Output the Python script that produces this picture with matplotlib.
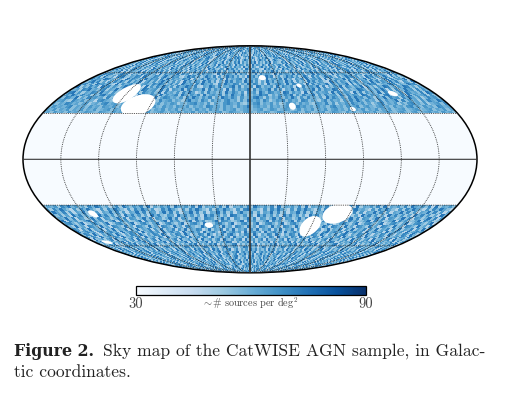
from __future__ import annotations

import matplotlib
matplotlib.use("Agg")
import matplotlib.pyplot as plt
import numpy as np

# density per cell as a digit, 3 deg wide and 2 deg tall, |b| from 30 up to 90 (hand estimate)
north_rows = [
    "564756475645765476547564576456745675465746574657456745765467546576457645675476456745765475645765745675467546745675647564",
    "657465746574657456746574567465746574657465647564756475674567456745764576457465746574675647565746574657456745674567465746",
    "475657846564756476574658745674675475647657465648756475647569467564756467458675647564785647568467546756475647856475648756",
    "746587564673564785674657465786457465763546785647365478657436578465746357864756437658473657486574635784657364785647356748",
    "567438657465278654746859467536748567465379564863756478563749657486357684756387465368475637485964756384756938475637486597",
    "648759364867563847962537486574936875647385964758364975863746589637465847596374856473958647385967486375948673859647358674",
    "375964857364895763485762947586394756839647583946758374965837465978364758693748569374856739485763984756389475683947568374",
    "689473658749563748295647386574928564738596247385647395864728573964875639847562938475673948576294837564938756483975648397",
    "456387956478365947586374985673948276593847659384756293847569384756938472659384756938476598273645986374859627384596738475",
    "793648572968475369748562937485964738569748326597483657948365729846573948657293846759382647593864759284637598463759846375",
    "568473967584293756849367548697358472965738496573284965873649587362945786394875629384756938475692837465978346597836459783",
    "647958362748596384759268473695847362957486395847263958476395847263958476395827463958476329584763958427639584763958427639",
    "385764985637429586473958672849375648692735849657382946578394657283946758394627583946758293847659382746593847265938476592",
    "768395462879436587296458736954867325968473596482735968473529684735968247359684735962847359684273596847352968473596284735",
    "459687346958274639587462938576493857264938576429385764938572649385764293857649385726493857642938576493857264938576429385",
    "837465928376549283765948372659483726594837265948372659483762594837265948376259483726594837625948372659483762594837265948",
    "576948372695847362958473629584736295847362958437629584736295847632958473629584736295847362958473629548736295847362958473",
    "694738526947385629473856294738562947385629473852694738562947385269473856294738562947358629473856294738526947385629473856",
    "385629476385294763852947638529476385294763582947638529476385294763852947368529476385294763852947638524976385294763852947",
    "746385927463859274638592746385927463859274683592746385927463859274638592764385927463859274638592746835927463859274638592",
    "596473825964738259647382596473825964783259647382596473825964738259647382596437825964738259647382596473285964738259647382",
    "473859624738596247385962473859624738956247385962473859624738596247385962437859624738596247385962473859264738596247385962",
    "865947326859473268594732685947326859473268594732685947326859473268594372685947326859473268594732685947236859473268594732",
    "647382956473829564738295647382956473289564738295647382956473829564738295467382956473829564738295647382596473829564738295",
    "395864725395864725398647253958647253958647253958647253958647253958467253958647253958647253958647253986472539586472539586",
    "758496327584963275849632758496327584693275849632758496327584963275849362758496327584963275849632758496237584963275849632",
    "486359724863597248635972486359724863957248635972486359724863597248635792486359724863597248635972486359274863597248635972",
    "697384526973845269738452697384526973485269738452697384526973845269738542697384526973845269738452697384256973845269738452",
    "548637295486372954863729548637295486732954863729548637295486372954863279548637295486372954863729548637925486372954863729",
    "376495867394658673946586739465867394568673946586739465867394658673946856739465867394658673946586739465687394658673946586",
]
south_rows = [
    "465738695746385974625839647583926475839657482936574839265748396574829365748392657483965748293657483926574839657482936574",
    "738596427385964273859642738596472385964273859642738596427389564273859642738596427385964273895642738596427385964273859642",
    "596483726594837265948372659483762594837265948372659483726954837265948372659483726594837269483726594837265948372659483726",
    "847362958473629584736295847362958437629584736295847362985473629584736295847362958473629854736295847362958473629584736295",
    "365948276359482763594827635948276359482763594287635948276359482763594827635948276359428763594827635948276359482763594827",
    "692857346928573469285734692857346928573469285734692875346928573469285734692857346928753469285734692857346928573469285734",
    "478536924785369247853692478536924785369247853962478536924785369247853692478536924785396247853692478536924785369247853692",
    "753946287539462875394628753946287539462875349628753946287539462875394628753946287534962875394628753946287539462875394628",
    "586274936582749365827493658274936582749365872493658274936582749365827493658274936587249365827493658274936582749365827493",
    "394685727946857294685729468572946857294685729468527946857294685729468572946857294685279468572946857294685729468572946857",
    "648739526487395264873952648739526487395264873952648379526487395264873952648739526487395264837952648739526487395264873952",
    "573862945738629457386294573862945738629457386294573682945738629457386294573862945738629457368294573862945738629457386294",
    "829457368294573682945736829457368294573682945736829547368294573682945736829457368294573682954736829457368294573682945736",
    "465928374659283746592837465928374659283746592837465982374659283746592837465928374659283746598237465928374659283746592837",
    "736485926364859263648592636485926364859263648592636458926364859263648592636485926364859263645892636485926364859263648592",
    "958374625983746259837462598374625983746259837462598347625983746259837462598374625983746259834762598374625983746259837462",
    "647295836472958364729583647295836472958364729583647925836472958364729583647295836472958364792583647295836472958364729583",
    "385746926857469268574692685746926857469268574692685476926857469268574692685746926857469268547692685746926857469268574692",
    "594638275946382759463827594638275946382759463827594368275946382759463827594638275946382759436827594638275946382759463827",
    "762859347628593476285934762859347628593476285934762589347628593476285934762859347628593476258934762859347628593476285934",
    "483967254839672548396725483967254839672548396725483697254839672548396725483967254839672548369725483967254839672548396725",
    "659274836592748365927483659274836592748365927483659724836592748365927483659274836592748365972483659274836592748365927483",
    "746583927465839274658392746583927465839274658392746853927465839274658392746583927465839274685392746583927465839274658392",
    "385967425859674258596742585967425859674258596742585697425859674258596742585967425859674258569742585967425859674258596742",
    "597342685973426859734268597342685973426859734268597432685973426859734268597342685973426859743268597342685973426859734268",
    "864725938647259386472593864725938647259386472593867425938647259386472593864725938647259386742593864725938647259386472593",
    "473896254738962547389625473896254738962547389625478396254738962547389625473896254738962547839625473896254738962547389625",
    "659438726594387265943872659438726594387265943872659348726594387265943872659438726594387265934872659438726594387265943872",
    "782564937825649378256493782564937825649378256493782654937825649378256493782564937825649378265493782564937825649378256493",
    "546973825469738254697382546973825469738254697382546793825469738254697382546973825469738254679382546973825469738254697382",
]
digit_low = 41
digit_step = 3.6

# empty patches: lon, lat, half width, half height, tilt (deg)
hole_lon = [-120, -101, 59, 79, 14, 38, 139, 51, 91, -142, -40, -166]
hole_lat = [44, 36, -45, -36, 56, 35, 44, 50, 33, -36, -44, -57]
hole_dlon = [10, 14.5, 9.5, 13, 4, 3, 4, 2.5, 2.5, 3.5, 4, 5]
hole_dlat = [7, 7.5, 7.5, 7, 2, 2.5, 2, 1.5, 1.5, 2.5, 2, 1.5]
hole_tilt = [5, 0, 0, 0, 0, 0, 0, 0, 0, 0, 0, 0]

lon_edges = np.arange(-180, 181, 3)
lat_edges_north = np.arange(30, 91, 2)
band_edges = np.arange(-30, 31, 3)
merid_lons = [-150, -120, -90, -60, -30, 30, 60, 90, 120, 150]
parallel_lats = [-60, -30, 30, 60]
vmin, vmax = 30, 90


def grid_from(rows: list[str]) -> np.ndarray:
    return np.array([[digit_low + digit_step * int(c) for c in row] for row in rows], dtype=float)


def main() -> None:
    fig = plt.figure(figsize=(5.07, 3.93), dpi=100, facecolor="white")
    ax = fig.add_axes([23 / 507, (393 - 272.8) / 393, 454 / 507, 227 / 393], projection="mollweide")

    lon = np.radians(lon_edges)
    north = ax.pcolormesh(lon, np.radians(lat_edges_north), grid_from(north_rows),
                          cmap="Blues", vmin=vmin, vmax=vmax, linewidth=0, rasterized=True)
    ax.pcolormesh(lon, -np.radians(lat_edges_north), grid_from(south_rows),
                  cmap="Blues", vmin=vmin, vmax=vmax, linewidth=0, rasterized=True)
    band = np.full((len(band_edges) - 1, len(lon_edges) - 1), float(vmin))
    ax.pcolormesh(lon, np.radians(band_edges), band, cmap="Blues", vmin=vmin, vmax=vmax, linewidth=0)

    t = np.linspace(0, 2 * np.pi, 60)
    for x0, y0, dx, dy, tilt in zip(hole_lon, hole_lat, hole_dlon, hole_dlat, hole_tilt):
        a = np.radians(tilt)
        ex, ey = dx * np.cos(t), dy * np.sin(t)
        hx = x0 + ex * np.cos(a) - ey * np.sin(a)
        hy = y0 + ex * np.sin(a) + ey * np.cos(a)
        ax.fill(np.radians(hx), np.radians(hy), color="white", linewidth=0, zorder=2)

    lat_line = np.radians(np.linspace(-89.9, 89.9, 200))
    lon_line = np.radians(np.linspace(-179.9, 179.9, 200))
    for m in merid_lons:
        ax.plot(np.full_like(lat_line, np.radians(m)), lat_line, color="#222222", lw=0.6, ls=(0, (1, 1.2)), zorder=3)
    for p in parallel_lats:
        ax.plot(lon_line, np.full_like(lon_line, np.radians(p)), color="#222222", lw=0.6, ls=(0, (1, 1.2)), zorder=3)
    ax.plot(np.zeros_like(lat_line), lat_line, color="#333333", lw=1.2, zorder=3)
    ax.plot(lon_line, np.zeros_like(lon_line), color="#333333", lw=0.8, zorder=3)

    ax.grid(False)
    ax.set_xticklabels([])
    ax.set_yticklabels([])
    ax.tick_params(length=0)
    ax.spines["geo"].set_linewidth(1.1)

    cax = fig.add_axes([136 / 507, (393 - 295) / 393, 230 / 507, 9 / 393])
    cb = fig.colorbar(north, cax=cax, orientation="horizontal", ticks=[vmin, vmax])
    cb.ax.tick_params(length=0, pad=1.5, labelsize=10.5, labelcolor="#444444")
    cb.ax.set_xticklabels([str(vmin), str(vmax)], family="cmr10")
    cb.outline.set_linewidth(0.9)
    fig.text(250 / 507, 1 - 303 / 393, r"$\sim\!\#$ sources per deg$^2$", family="cmr10",
             math_fontfamily="cm", fontsize=7.4, ha="center", va="center", color="#444444")

    fig.text(14 / 507, 1 - 356 / 393, "Figure 2.", family="DejaVu Serif", weight="bold", fontsize=11.4,
             va="baseline", color="#222222")
    fig.text(103 / 507, 1 - 356 / 393, "Sky map of the CatWISE AGN sample, in Galac-", family="cmr10",
             fontsize=12.6, va="baseline", color="#222222")
    fig.text(14 / 507, 1 - 377 / 393, "tic coordinates.", family="cmr10", fontsize=12.6, va="baseline", color="#222222")

    fig.savefig("out.png", dpi=100, facecolor="white")


if __name__ == "__main__":
    main()
